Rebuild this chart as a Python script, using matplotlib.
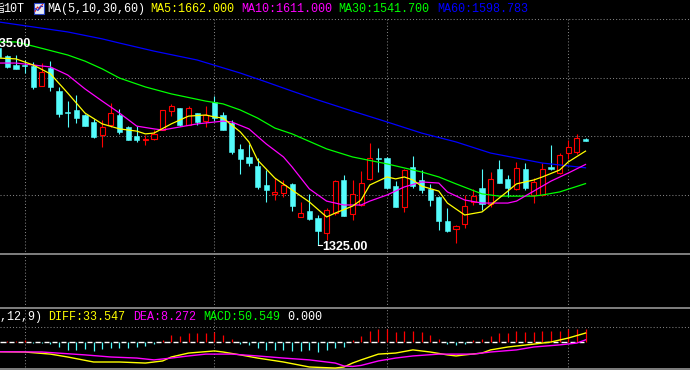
import matplotlib
matplotlib.use("Agg")
import matplotlib.pyplot as plt
from matplotlib.patches import Rectangle
import numpy as np

# ---------------- data ----------------
idx = list(range(-1, 68))
opens = [2034, 2005, 1973, 1973, 1969, 1897, 1962, 1879, 1804, 1811,
         1793, 1768, 1721, 1757, 1793, 1750, 1717, 1703, 1707, 1739,
         1807, 1818, 1757, 1800, 1771, 1840, 1793, 1764, 1671, 1642,
         1609, 1541, 1509, 1512, 1545, 1426, 1447, 1422, 1368, 1440,
         1559, 1437, 1469, 1563, 1638, 1638, 1537, 1462, 1606, 1559,
         1527, 1498, 1411, 1383, 1401, 1480, 1530, 1473, 1599, 1563,
         1527, 1599, 1505, 1505, 1606, 1584, 1656, 1660, 1707]
highs = [2041, 2009, 2009, 1991, 1984, 1980, 1987, 1894, 1843, 1865,
         1797, 1779, 1775, 1836, 1815, 1753, 1753, 1721, 1739, 1811,
         1833, 1818, 1825, 1800, 1825, 1861, 1804, 1775, 1689, 1689,
         1638, 1595, 1566, 1559, 1548, 1480, 1509, 1433, 1458, 1559,
         1577, 1559, 1591, 1692, 1674, 1642, 1555, 1599, 1645, 1595,
         1545, 1501, 1458, 1397, 1505, 1527, 1599, 1588, 1631, 1577,
         1624, 1620, 1566, 1620, 1685, 1656, 1703, 1725, 1710]
lows = [1998, 1962, 1959, 1944, 1887, 1897, 1879, 1786, 1750, 1764,
        1753, 1710, 1678, 1750, 1725, 1703, 1696, 1685, 1703, 1739,
        1789, 1753, 1757, 1757, 1750, 1771, 1739, 1653, 1581, 1609,
        1527, 1480, 1487, 1498, 1447, 1426, 1415, 1325, 1343, 1433,
        1429, 1415, 1465, 1559, 1588, 1527, 1462, 1444, 1530, 1512,
        1465, 1379, 1372, 1332, 1386, 1469, 1451, 1462, 1548, 1498,
        1523, 1523, 1476, 1501, 1595, 1581, 1635, 1653, 1699]
closes = [2002, 1966, 1959, 1969, 1894, 1948, 1894, 1797, 1800, 1782,
          1753, 1714, 1750, 1800, 1732, 1703, 1703, 1707, 1725, 1811,
          1825, 1757, 1818, 1768, 1793, 1782, 1739, 1660, 1635, 1620,
          1534, 1523, 1516, 1541, 1465, 1440, 1419, 1375, 1451, 1555,
          1429, 1509, 1548, 1638, 1635, 1530, 1462, 1595, 1537, 1523,
          1487, 1411, 1375, 1393, 1465, 1501, 1473, 1563, 1548, 1530,
          1602, 1530, 1552, 1599, 1599, 1649, 1678, 1710, 1699]

ma5_x = [-1, 1, 3, 5, 7, 9, 11, 13, 15, 16, 17, 19, 21, 23, 24, 25, 27, 28, 29, 31,
         33, 35, 37, 38, 40, 41, 42, 44, 45, 46, 47, 48, 50, 51, 53, 55, 56, 58, 59, 61,
         62, 64, 65, 67]
ma5_v = [1998, 1995, 1973, 1941, 1872, 1800, 1761, 1743, 1735, 1725, 1728, 1761, 1789, 1793,
         1786, 1782, 1732, 1696, 1631, 1566, 1523, 1480, 1426, 1440, 1465, 1487, 1541, 1570,
         1563, 1570, 1559, 1537, 1519, 1476, 1433, 1444, 1469, 1519, 1545, 1559, 1570, 1595,
         1624, 1663]
ma10_x = [-1, 1, 3, 5, 7, 9, 11, 13, 15, 17, 18, 20, 22, 25, 26, 28, 30, 32, 33, 35,
          37, 39, 41, 42, 44, 46, 48, 50, 51, 53, 55, 58, 59, 61, 63, 65, 67]
ma10_v = [1980, 1980, 1973, 1966, 1937, 1887, 1843, 1800, 1753, 1743, 1739, 1750, 1761, 1771,
          1768, 1743, 1689, 1642, 1606, 1527, 1483, 1469, 1469, 1483, 1505, 1534, 1552, 1548,
          1516, 1487, 1476, 1476, 1483, 1519, 1555, 1584, 1615]
ma30_x = [-1, 1, 3, 7, 9, 11, 13, 16, 19, 23, 25, 27, 29, 31, 33, 37, 40, 44, 48, 50,
          52, 55, 57, 61, 62, 64, 67]
ma30_v = [2056, 2056, 2041, 2009, 1987, 1959, 1926, 1894, 1869, 1843, 1833, 1811, 1782, 1746,
          1725, 1671, 1642, 1617, 1588, 1570, 1545, 1509, 1501, 1501, 1505, 1516, 1546]
ma60_x = [-1, 3, 7, 11, 13, 17, 22, 27, 30, 33, 36, 40, 44, 48, 52, 56, 59, 62, 67]
ma60_v = [2128, 2110, 2092, 2067, 2052, 2023, 1991, 1944, 1912, 1879, 1847, 1807, 1768, 1728,
          1696, 1656, 1638, 1620, 1603]

hist_idx = list(range(0, 68))
macd_hist = [5, 5, 6, -5, -2, -8, -18, -29, -29, -25,
             -35, -27, -23, -23, -23, -19, -14, -8, 9, 25,
             24, 34, 34, 34, 37, 25, 13, -6, -10, -23,
             -29, -32, -32, -35, -33, -29, -38, -29, -23, -19,
             9, 24, 43, 51, 51, 37, 43, 43, 37, 28,
             13, -6, -13, -6, 9, 13, 24, 33, 33, 43,
             37, 37, 41, 41, 43, 51, 51, 51]
diff_x = [-1, 2, 5, 7, 10, 13, 16, 18, 19, 21, 24, 25, 27, 29, 32, 35, 38, 39, 40, 41,
          43, 45, 47, 49, 51, 52, 53, 55, 56, 58, 61, 63, 65, 67]
diff_v = [-37, -38, -46, -57, -76, -76, -80, -72, -57, -42, -34, -38, -49, -61, -76, -95,
          -99, -95, -80, -68, -46, -42, -30, -38, -49, -53, -49, -42, -30, -19, -8, 0, 15, 34]
dea_x = [-1, 4, 9, 12, 15, 17, 19, 21, 23, 26, 29, 32, 35, 38, 39, 40, 41, 43, 45, 47,
         50, 54, 56, 59, 61, 64, 66, 67]
dea_v = [-37, -38, -49, -57, -61, -68, -61, -53, -46, -46, -53, -61, -68, -80, -91, -93,
         -89, -72, -61, -53, -46, -46, -38, -30, -19, -11, -4, 8]

month_idx = [2, 24, 44, 65]          # vertical dotted grid (candle index)
price_grid = [2139, 1926, 1717, 1505]
macd_grid = [57]
hidden_high_idx, hidden_high = -3, 2035.00

title_name = "指"
title_code = "10T"
ma_title = "MA(5,10,30,60)"
ma_labels = ["MA5:1662.000", "MA10:1611.000", "MA30:1541.700", "MA60:1598.783"]
macd_title = "MACD(26,12,9)"
macd_labels = ["DIFF:33.547", "DEA:8.272", "MACD:50.549", "0.000"]

# ---------------- style / layout ----------------
W, H, DPI = 690, 370, 100
X0, DX = 7.3, 8.63                      # px of candle 0, px per candle
PRICE_TOP, PRICE_PER_PX, MAIN_BOT = 2207.0, 3.6, 254
MACD_TOP, MACD_ZERO, MACD_PER_PX = 308, 342, 3.8
RED, CYAN = "#FF0000", "#54FCFC"
YEL, MAG, GRN, BLU = "#FFFF00", "#FF00FF", "#00FF00", "#0000FF"
GRID, SEP = "#808080", "#8a8a8a"
DOT = (0, (1, 2))
MONO = ["Liberation Mono", "Noto Sans CJK SC"]

fig = plt.figure(figsize=(W / DPI, H / DPI), dpi=DPI, facecolor="black")
xlim = (-X0 / DX, (W - X0) / DX)


def fx(px):
    return px / W


def fy(py):
    return 1 - py / H


# background axis: index in x, pixel rows in y
ax_bg = fig.add_axes([0, 0, 1, 1], zorder=0)
ax_bg.set_facecolor("black")
ax_bg.set_xlim(xlim)
ax_bg.set_ylim(H, 0)
ax_bg.axis("off")
for m in month_idx:
    ax_bg.plot([m, m], [19, H], color=GRID, lw=0.75, linestyle=DOT)

# pixel overlay for separators / icon
ax_px = fig.add_axes([0, 0, 1, 1], zorder=1)
ax_px.set_facecolor("none")
ax_px.set_xlim(0, W)
ax_px.set_ylim(H, 0)
ax_px.axis("off")
for py in (254, 308, 369):
    ax_px.axhline(py, color=SEP, lw=1.3)
ax_px.add_patch(Rectangle((33.5, 2.5), 10, 11, facecolor="#e6ecf7", edgecolor="#2a46c8", lw=0.8))
ax_px.plot([35, 37.5, 39.5, 42.5], [11.5, 7, 9, 4.5], color="#e02020", lw=0.8)
ax_px.plot([35, 38, 40.5, 42.5], [8.5, 10.5, 6, 6.5], color="#2030d0", lw=0.8)

# ---------------- main price panel ----------------
ax = fig.add_axes([0, fy(MAIN_BOT), 1, MAIN_BOT / H], zorder=2)
ax.set_facecolor("none")
ax.set_xlim(xlim)
ax.set_ylim(PRICE_TOP - MAIN_BOT * PRICE_PER_PX, PRICE_TOP)
ax.axis("off")
for g in price_grid:
    ax.axhline(g, color=GRID, lw=0.75, linestyle=DOT, zorder=1)

bw = 0.6
min_h = PRICE_PER_PX
for i, o, h, l, c in zip(idx, opens, highs, lows, closes):
    if c > o:
        ax.vlines(i, c, h, color=RED, lw=0.8, zorder=3)
        ax.vlines(i, l, o, color=RED, lw=0.8, zorder=3)
        ax.add_patch(Rectangle((i - bw / 2, o), bw, c - o, facecolor="black",
                               edgecolor=RED, lw=0.8, zorder=3))
    else:
        ax.vlines(i, l, h, color=CYAN, lw=0.8, zorder=3)
        ax.add_patch(Rectangle((i - bw / 2, c), bw, max(o - c, min_h), facecolor=CYAN,
                               edgecolor=CYAN, lw=0.4, zorder=3))

ax.plot(ma60_x, ma60_v, color=BLU, lw=0.9, zorder=4)
ax.plot(ma30_x, ma30_v, color=GRN, lw=0.9, zorder=4)
ax.plot(ma10_x, ma10_v, color=MAG, lw=0.9, zorder=4)
ax.plot(ma5_x, ma5_v, color=YEL, lw=0.9, zorder=4)

lo_pos = int(np.argmin(lows))
lo_i, lo_v = idx[lo_pos], lows[lo_pos]
ax.plot([lo_i, lo_i + 0.5], [lo_v, lo_v], color="white", lw=0.8, zorder=5)
ax.annotate(f"{lo_v:.2f}", xy=(lo_i, lo_v), xytext=(4.5 * 0.72, -1.5 * 0.72),
            textcoords="offset points", ha="left", va="center", color="white",
            fontsize=9, fontweight="bold", family="Liberation Sans", zorder=6)
ax.annotate(f"{hidden_high:.2f}", xy=(hidden_high_idx, hidden_high),
            xytext=(4 * 0.72, 3.5 * 0.72), textcoords="offset points",
            ha="left", va="center", color="white", fontsize=9, fontweight="bold",
            family="Liberation Sans", annotation_clip=False, zorder=6)

# ---------------- MACD panel ----------------
axm = fig.add_axes([0, 0, 1, (H - MACD_TOP) / H], zorder=2)
axm.set_facecolor("none")
axm.set_xlim(xlim)
axm.set_ylim((MACD_ZERO - H) * MACD_PER_PX, (MACD_ZERO - MACD_TOP) * MACD_PER_PX)
axm.axis("off")
for g in macd_grid:
    axm.axhline(g, color=GRID, lw=0.75, linestyle=DOT, zorder=1)
seg_i = np.array(idx[:-1])
axm.hlines(np.zeros(len(seg_i)), seg_i + 0.2, seg_i + 0.8, color="white", lw=1.0, zorder=2)
hist_cols = [RED if v > 0 else CYAN for v in macd_hist]
axm.vlines(hist_idx, 0, macd_hist, colors=hist_cols, lw=0.9, zorder=3)
axm.plot(diff_x, diff_v, color=YEL, lw=1.0, zorder=4)
axm.plot(dea_x, dea_v, color=MAG, lw=1.0, zorder=5)

# ---------------- header texts ----------------
FS = 8.5
fig.text(fx(4), fy(9), title_name, color="white", fontsize=FS, family=MONO, ha="right", va="center")
fig.text(fx(3), fy(9), title_code, color="white", fontsize=FS, family=MONO, ha="left", va="center")
fig.text(fx(47), fy(9), ma_title, color="white", fontsize=FS, family=MONO, ha="left", va="center")
for s, x0, col in zip(ma_labels, [150, 241, 338, 437], [YEL, MAG, GRN, BLU]):
    fig.text(fx(x0), fy(9), s, color=col, fontsize=FS, family=MONO, ha="left", va="center")

fig.text(fx(42), fy(317), macd_title, color="white", fontsize=FS, family=MONO, ha="right", va="center")
for s, x0, col in zip(macd_labels, [48, 133, 203, 287], [YEL, MAG, GRN, "white"]):
    fig.text(fx(x0), fy(317), s, color=col, fontsize=FS, family=MONO, ha="left", va="center")

fig.savefig("out.png", dpi=DPI, facecolor="black")
